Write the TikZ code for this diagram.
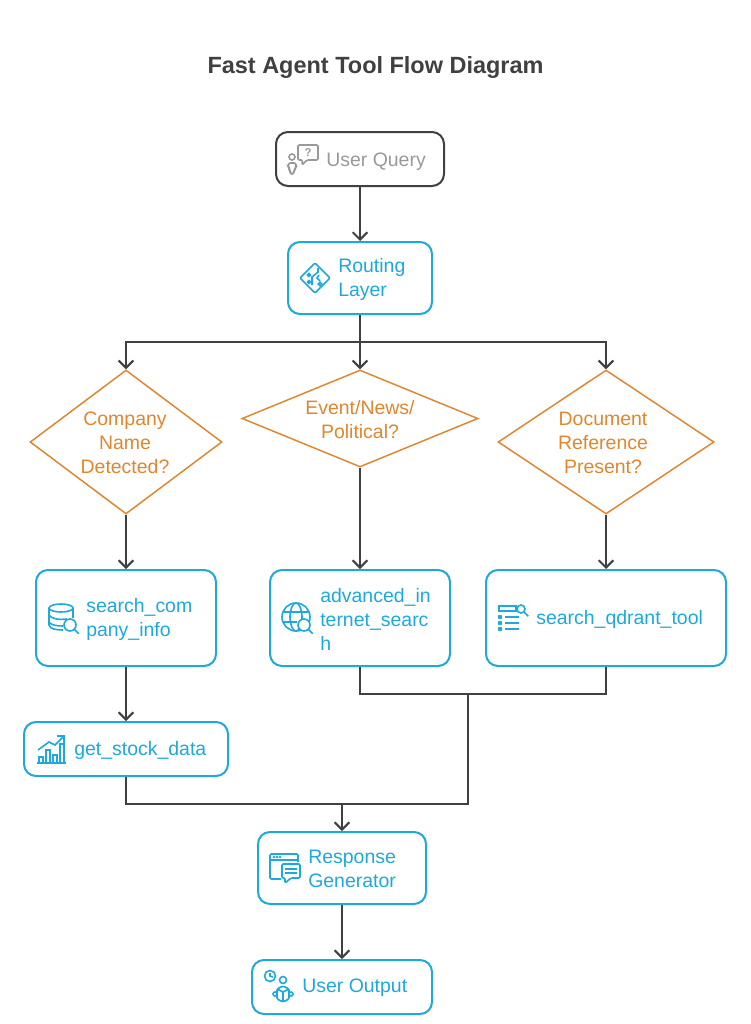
\documentclass[tikz,border=0pt]{standalone}
\usepackage{fontspec}
\setmainfont{Liberation Sans}
\usetikzlibrary{arrows.meta,shapes.geometric,calc}
\definecolor{linegray}{HTML}{404040}
\definecolor{softgray}{HTML}{999999}
\definecolor{skyblue}{HTML}{1EA8DB}
\definecolor{amber}{HTML}{E0862E}
\newcommand{\bodyfont}{\fontsize{14.6}{18}\selectfont}
\newcommand{\lens}[3]{\filldraw [iconline,fill=white] (#1,#2) circle (#3);
 \draw [iconline] ($(#1,#2)+(0.7*#3,0.7*#3)$) -- ++(4.5,4.5);}
\tikzset{
 flow/.style={draw=linegray,line width=1.5pt,->},
 plain/.style={draw=linegray,line width=1.5pt},
 bluebox/.style={rectangle,rounded corners=9pt,draw=skyblue,line width=1.5pt,inner sep=0pt},
 graybox/.style={bluebox,draw=linegray},
 bluetext/.style={text=skyblue,font=\bodyfont,align=left,anchor=west,inner sep=0pt,yshift=-0.8pt},
 graytext/.style={bluetext,text=softgray,yshift=-1.2pt},
 choice/.style={diamond,draw=amber,line width=1.1pt,inner sep=0pt},
 choicetext/.style={text=amber,font=\bodyfont,align=center,inner sep=0pt,yshift=-0.4pt},
 iconline/.style={draw=skyblue,line width=1.2pt},
 grayline/.style={draw=softgray,line width=1.2pt},
}
\begin{document}
\begin{tikzpicture}[x=0.75pt,y=-0.75pt,>={Straight Barb[length=5.5pt,width=11pt]}]
\useasboundingbox (0,0) rectangle (750,1024);
\node [text=linegray,font=\fontsize{17.6}{22}\selectfont\bfseries] (title) at (375.5,67) {Fast Agent Tool Flow Diagram};

\node [graybox,minimum width=126pt,minimum height=40.5pt] (query) at (360,159) {};
\node [graytext] (querytext) at (326,159) {User Query};
\node [bluebox,minimum width=108pt,minimum height=54pt] (routing) at (360,278) {};
\node [bluetext] (routingtext) at (338,278) {Routing\\Layer};

\node [choice,minimum width=144pt,minimum height=108pt,aspect=1.33] (company) at (126,442) {};
\node [choicetext] (companytext) at (125,442) {Company\\Name\\Detected?};
\node [choice,minimum width=177pt,minimum height=72.75pt,aspect=2.43] (event) at (360,418.5) {};
\node [choicetext] (eventtext) at (360,419) {Event/News/\\Political?};
\node [choice,minimum width=162pt,minimum height=108pt,aspect=1.5] (document) at (606,442) {};
\node [choicetext] (documenttext) at (603,442) {Document\\Reference\\Present?};

\node [bluebox,minimum width=135pt,minimum height=72pt] (company info) at (126,618) {};
\node [bluetext] (infotext) at (86,618) {search\_com\\pany\_info};
\node [bluebox,minimum width=135pt,minimum height=72pt] (internet) at (360,618) {};
\node [bluetext] (internettext) at (320,618) {advanced\_in\\ternet\_searc\\h};
\node [bluebox,minimum width=180pt,minimum height=72pt] (qdrant) at (606,618) {};
\node [bluetext] (qdranttext) at (536,618) {search\_qdrant\_tool};
\node [bluebox,minimum width=153pt,minimum height=40.5pt] (stock) at (126,749) {};
\node [bluetext] (stocktext) at (74,749) {get\_stock\_data};
\node [bluebox,minimum width=126pt,minimum height=54pt] (response) at (342,868) {};
\node [bluetext] (responsetext) at (308,868) {Response\\Generator};
\node [bluebox,minimum width=135pt,minimum height=40.5pt] (output) at (342,987) {};
\node [bluetext] (outputtext) at (302,987) {User Output};

\coordinate (split) at (360,342);
\coordinate (join) at (468,694);
\coordinate (merge) at (342,804);

\draw [flow] (query.south) -- (routing.north);
\draw [plain] (routing.south) -- (split);
\draw [flow] (split) -| (company.north);
\draw [flow] (split) -- (event.north);
\draw [flow] (split) -| (document.north);
\draw [flow] (company.south) -- (company info.north);
\draw [flow] (event.south) -- (internet.north);
\draw [flow] (document.south) -- (qdrant.north);
\draw [flow] (company info.south) -- (stock.north);
\draw [plain] (internet.south) |- (join);
\draw [plain] (qdrant.south) |- (join);
\draw [plain] (join) |- (merge);
\draw [plain] (stock.south) |- (merge);
\draw [flow] (merge) -- (response.north);
\draw [flow] (response.south) -- (output.north);

% user query icon
\draw [grayline] (292,157) circle (3);
\draw [grayline,rounded corners=1.5pt] (290,174) -- (290,170) -- (288.5,168) -- (288.5,163) -- (296,163) -- (296,168) -- (294,170) -- (294,174) -- cycle;
\draw [grayline,rounded corners=1pt] (298,145) -- (318,145) -- (318,160) -- (307,160) -- (302,165) -- (302.5,160) -- (298,160) -- cycle;
\node [text=softgray,font=\fontsize{8.5}{8.5}\selectfont\bfseries,inner sep=0pt] (mark) at (308,152.5) {?};

% routing icon
\draw [iconline,rounded corners=1pt] (315,263) -- (330,278) -- (315,293) -- (300,278) -- cycle;
\draw [iconline] (312,285) -- (312,277) -- (318,272) -- (318,268);
\draw [iconline] (320,281) -- (317,278) -- (319,275);
\draw [iconline] (309,275) circle (1.6) (309,282) circle (1.6) (320,284) circle (1.8);

% database icon
\draw [iconline] (61,608) ellipse (12 and 4);
\draw [iconline] (49,608) -- (49,625) .. controls (50,629) and (56,630) .. (63,630);
\draw [iconline] (73,608) -- (73,618);
\draw [iconline] (49,615) .. controls (51,619) and (60,620) .. (67,619);
\draw [iconline] (49,622) .. controls (51,625) and (56,626) .. (63,626);
\lens{70}{625}{6}

% globe icon
\draw [iconline] (296,617) circle (14);
\draw [iconline] (296,617) ellipse (6 and 14);
\draw [iconline] (283,612) -- (309,612);
\draw [iconline] (283,622) -- (297,622);
\lens{304}{625}{6}

% list icon
\draw [iconline] (499,606) rectangle (516,611);
\lens{521}{609}{4}
\foreach \rowy in {617,623,629}{
 \filldraw [skyblue] (500,\rowy) circle (2);
 \draw [iconline] (505,\rowy) -- (519,\rowy);
}

% chart icon
\draw [iconline] (37,763) -- (66,763);
\draw [iconline] (39,763) rectangle (43,757);
\draw [iconline] (46,763) rectangle (50,750);
\draw [iconline] (53,763) rectangle (57,755);
\draw [iconline] (60,763) rectangle (64,744);
\draw [iconline] (38,750) -- (49,742) -- (55,745) -- (63,737);
\draw [iconline] (57,736) -- (64,736) -- (64,743);

% response icon
\draw [iconline,rounded corners=1pt] (281,879) -- (270,879) -- (270,854) -- (298,854) -- (298,862);
\draw [iconline] (270,860) -- (298,860);
\filldraw [skyblue] (274,857) circle (1) (277,857) circle (1) (280,857) circle (1);
\draw [iconline,rounded corners=1pt] (282,864) -- (300,864) -- (300,878) -- (291,878) -- (285,883) -- (285,878) -- (282,878) -- cycle;
\draw [iconline] (285,869) -- (297,869) (285,873) -- (297,873);

% output icon
\draw [iconline] (270,976) circle (5.5);
\draw [iconline] (270,973) -- (270,976) -- (273,977);
\draw [iconline] (283,980) circle (3.5);
\draw [iconline,rounded corners=1pt] (277,989) -- (283,986) -- (289,989) -- (289,999) -- (283,1002) -- (277,999) -- cycle;
\draw [iconline] (277,989) -- (283,992) -- (289,989) (283,992) -- (283,1002);
\draw [iconline] (275,994) circle (2) (291,994) circle (2);
\end{tikzpicture}
\end{document}
